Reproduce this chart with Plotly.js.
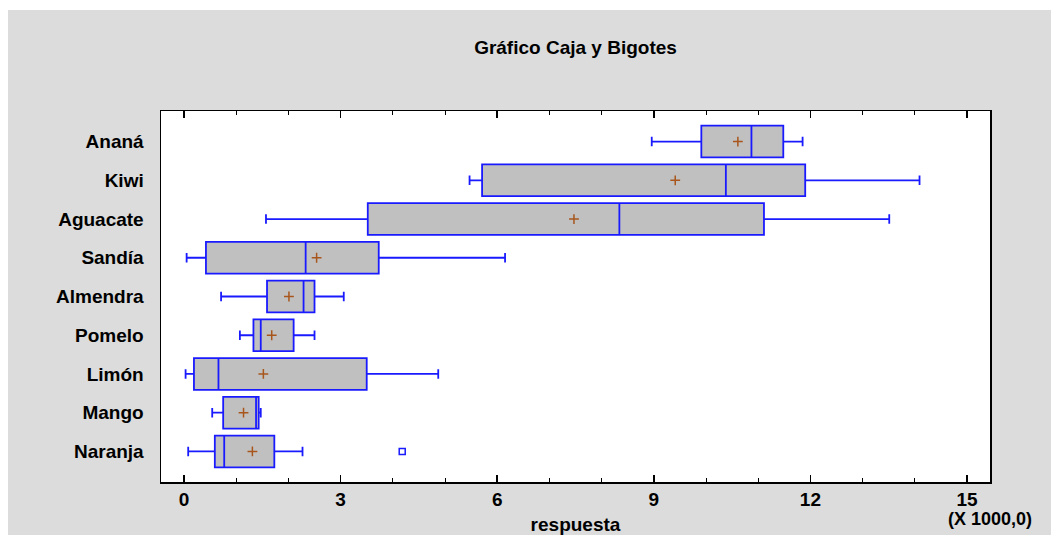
<!DOCTYPE html>
<html>
<head>
<meta charset="utf-8">
<script src="https://cdn.plot.ly/plotly-3.0.1.min.js"></script>
<style>
  html, body { margin: 0; padding: 0; background: #ffffff; width: 1051px; height: 535px; overflow: hidden; }
  #chart { position: absolute; left: 8px; top: 10px; width: 1043px; height: 525px; }
</style>
</head>
<body>
<div id="chart"></div>
<script>
const categories = ['Ananá', 'Kiwi', 'Aguacate', 'Sandía', 'Almendra', 'Pomelo', 'Limón', 'Mango', 'Naranja'];
const lowerFence = [8960, 5470, 1570, 50, 710, 1070, 30, 540, 80];
const q1Values   = [9910, 5710, 3520, 420, 1590, 1330, 190, 750, 590];
const medians    = [10870, 10380, 8340, 2330, 2290, 1470, 660, 1380, 770];
const q3Values   = [11480, 11900, 11110, 3730, 2500, 2100, 3500, 1430, 1730];
const upperFence = [11850, 14090, 13510, 6150, 3060, 2500, 4870, 1470, 2270];
const means      = [10610, 9410, 7470, 2540, 2010, 1680, 1520, 1140, 1310];
const outlierCats   = ['Naranja'];
const outlierValues = [4180];
const tickValues = [0, 3000, 6000, 9000, 12000, 15000];
const tickLabels = ['0', '3', '6', '9', '12', '15'];

const FONT = 'Liberation Sans, Arial, sans-serif';
const BLUE = '#1a1aff';

const traces = [
  {
    type: 'box',
    orientation: 'h',
    y: categories,
    q1: q1Values,
    median: medians,
    q3: q3Values,
    lowerfence: lowerFence,
    upperfence: upperFence,
    boxpoints: false,
    width: 0.82,
    whiskerwidth: 0.3,
    fillcolor: '#c0c0c0',
    line: { color: BLUE, width: 1.8 },
    hoverinfo: 'skip',
    showlegend: false
  },
  {
    type: 'scatter',
    mode: 'markers',
    x: means,
    y: categories,
    marker: { symbol: 'cross-thin', size: 7, line: { color: '#a8561c', width: 1.5 } },
    hoverinfo: 'skip',
    showlegend: false
  },
  {
    type: 'scatter',
    mode: 'markers',
    x: outlierValues,
    y: outlierCats,
    marker: { symbol: 'square-open', size: 6, color: BLUE, line: { color: BLUE, width: 1.5 } },
    hoverinfo: 'skip',
    showlegend: false
  }
];

const layout = {
  width: 1043,
  height: 525,
  paper_bgcolor: '#dcdcdc',
  plot_bgcolor: '#ffffff',
  margin: { l: 153, r: 61, t: 101, b: 53 },
  font: { family: FONT, size: 19, color: '#000000' },
  title: {
    text: 'Gráfico Caja y Bigotes',
    font: { family: FONT, size: 19, weight: 'bold', color: '#000000' },
    xref: 'paper', x: 0.5, xanchor: 'center',
    yref: 'container', y: 1 - 37 / 525, yanchor: 'middle'
  },
  xaxis: {
    range: [-441, 15440],
    tickmode: 'array',
    tickvals: tickValues,
    ticktext: tickLabels,
    ticks: 'inside',
    ticklen: 7,
    tickwidth: 1.5,
    tickcolor: '#000000',
    showline: true,
    linecolor: '#000000',
    linewidth: 1.5,
    mirror: 'ticks',
    showgrid: false,
    zeroline: false,
    ticklabelstandoff: 0,
    tickfont: { family: FONT, size: 19, weight: 'bold', color: '#000000' },
    minor: { tickmode: 'linear', tick0: 0, dtick: 1000, ticks: 'inside', ticklen: 4, tickwidth: 1, tickcolor: '#000000', showgrid: false },
    title: { text: 'respuesta', standoff: 10, font: { family: FONT, size: 19, weight: 'bold', color: '#000000' } },
    automargin: false,
    fixedrange: true
  },
  yaxis: {
    type: 'category',
    categoryorder: 'array',
    categoryarray: categories.slice().reverse(),
    range: [-0.79, 8.79],
    ticks: '',
    showline: true,
    linecolor: '#000000',
    linewidth: 1.5,
    mirror: true,
    showgrid: false,
    zeroline: false,
    ticklabelstandoff: 12,
    tickfont: { family: FONT, size: 19, weight: 'bold', color: '#000000' },
    automargin: false,
    fixedrange: true
  },
  annotations: [
    {
      text: '(X 1000,0)',
      xref: 'paper', yref: 'paper',
      x: 1, y: (482 - 519) / 371,
      xanchor: 'center', yanchor: 'middle',
      showarrow: false,
      font: { family: FONT, size: 18, weight: 'bold', color: '#000000' }
    }
  ]
};

Plotly.newPlot('chart', traces, layout, { displayModeBar: false, staticPlot: true });
</script>
</body>
</html>
